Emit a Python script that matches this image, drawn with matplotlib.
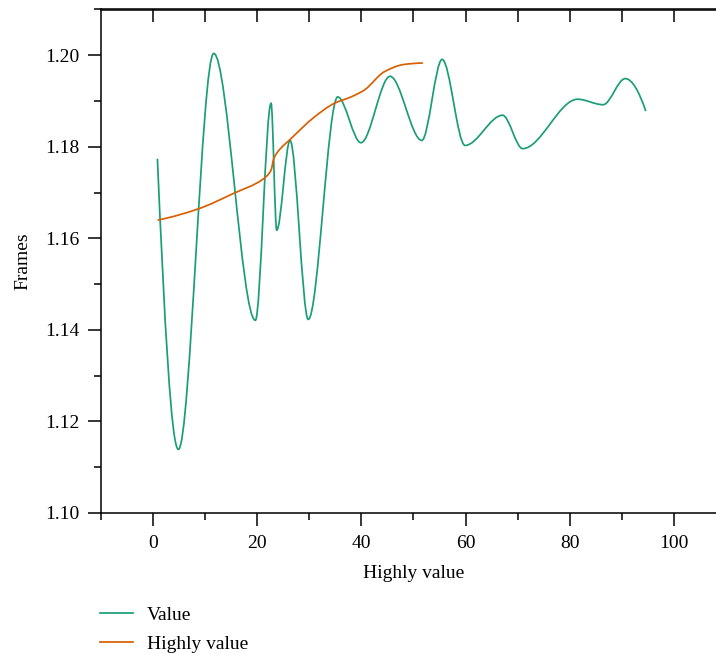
import numpy as np
import matplotlib
matplotlib.use("Agg")
import matplotlib.pyplot as plt
from matplotlib.path import Path
from matplotlib.patches import PathPatch
from matplotlib.lines import Line2D
from matplotlib.ticker import MultipleLocator

# ---- data ----
value_x = [0.83, 4.86, 11.65, 19.64, 22.65, 23.74, 26.3, 29.8, 35.45, 39.9,
           45.5, 51.6, 55.5, 59.9, 67.1, 70.96, 81.5, 86.4, 90.65, 94.6]
value_y = [1.1774, 1.1139, 1.2004, 1.1421, 1.1895, 1.1618, 1.1814, 1.1423, 1.1909, 1.1809,
           1.1954, 1.1814, 1.1991, 1.1803, 1.1869, 1.1796, 1.1904, 1.1892, 1.1949, 1.1878]

high_x = [0.86, 8.58, 15.6, 21.06, 22.65, 23.17, 23.93, 26.49, 30.96, 34.8,
          38.0, 40.56, 44.4, 48.2, 51.8]
high_y = [1.1640, 1.1664, 1.1699, 1.1729, 1.1749, 1.1774, 1.1789, 1.1818, 1.1865, 1.1895,
          1.1909, 1.1924, 1.1964, 1.1980, 1.1983]

series_labels = ["Value", "Highly value"]
colors = ["#1b9e77", "#d95f02"]

plt.rcParams['font.family'] = ['Liberation Serif', 'DejaVu Serif']
FS = 14


def pchip_slopes(x, y):
    x = np.asarray(x, float); y = np.asarray(y, float)
    h = np.diff(x); delta = np.diff(y) / h
    n = len(x); d = np.zeros(n)
    for k in range(1, n - 1):
        if delta[k - 1] * delta[k] <= 0:
            d[k] = 0.0
        else:
            w1 = 2 * h[k] + h[k - 1]; w2 = h[k] + 2 * h[k - 1]
            d[k] = (w1 + w2) / (w1 / delta[k - 1] + w2 / delta[k])

    def end(h0, h1, d0, d1):
        s = ((2 * h0 + h1) * d0 - h0 * d1) / (h0 + h1)
        if np.sign(s) != np.sign(d0):
            s = 0.0
        elif np.sign(d0) != np.sign(d1) and abs(s) > abs(3 * d0):
            s = 3 * d0
        return s
    d[0] = end(h[0], h[1], delta[0], delta[1])
    d[-1] = end(h[-1], h[-2], delta[-1], delta[-2])
    return d


def smooth_path(x, y):
    x = np.asarray(x, float); y = np.asarray(y, float)
    d = pchip_slopes(x, y)
    verts = [(x[0], y[0])]; codes = [Path.MOVETO]
    for i in range(len(x) - 1):
        hh = x[i + 1] - x[i]
        verts += [(x[i] + hh / 3, y[i] + d[i] * hh / 3),
                  (x[i + 1] - hh / 3, y[i + 1] - d[i + 1] * hh / 3),
                  (x[i + 1], y[i + 1])]
        codes += [Path.CURVE4] * 3
    return Path(verts, codes)


W, H = 716, 654
fig = plt.figure(figsize=(W / 100, H / 100), dpi=100)
left_px, right_px, top_px, bot_px = 101, 726, 9.5, 513
ax = fig.add_axes([left_px / W, 1 - bot_px / H, (right_px - left_px) / W, (bot_px - top_px) / H])

for xs, ys, c in [(value_x, value_y, colors[0]), (high_x, high_y, colors[1])]:
    ax.add_patch(PathPatch(smooth_path(xs, ys), facecolor='none', edgecolor=c,
                           lw=1.25, transform=ax.transData))

ax.set_xlim(-10, 110)
ax.set_ylim(1.10, 1.21)
ax.xaxis.set_major_locator(MultipleLocator(20))
ax.xaxis.set_minor_locator(MultipleLocator(10))
ax.yaxis.set_major_locator(MultipleLocator(0.02))
ax.yaxis.set_minor_locator(MultipleLocator(0.01))
ax.yaxis.set_major_formatter(matplotlib.ticker.FormatStrFormatter('%.2f'))

ax.spines['right'].set_visible(False)
for s in ['left', 'bottom', 'top']:
    ax.spines[s].set_linewidth(1.1)
ax.tick_params(which='major', direction='out', length=9.5, width=1.1, labelsize=FS, pad=6)
ax.tick_params(which='minor', direction='out', length=5, width=1.1)
ax.tick_params(top=False, right=False)

sec = ax.secondary_xaxis('top')
sec.set_xticks(np.arange(0, 101, 10))
sec.tick_params(direction='in', length=9.5, width=1.1, labeltop=False)
sec.xaxis.set_minor_locator(matplotlib.ticker.NullLocator())
sec.spines['top'].set_linewidth(1.1)

ax.set_xlabel("Highly value", fontsize=FS, labelpad=10)
ax.set_ylabel("Frames", fontsize=FS, labelpad=10)

handles = [Line2D([], [], color=c, lw=1.25) for c in colors]
fig.legend(handles, series_labels, loc='upper left',
           bbox_to_anchor=(100 / W, 1 - 606 / H), frameon=False, fontsize=FS,
           handlelength=1.7, handletextpad=0.7, labelspacing=0.6,
           borderpad=0, borderaxespad=0)

fig.savefig("out.png", dpi=100)
